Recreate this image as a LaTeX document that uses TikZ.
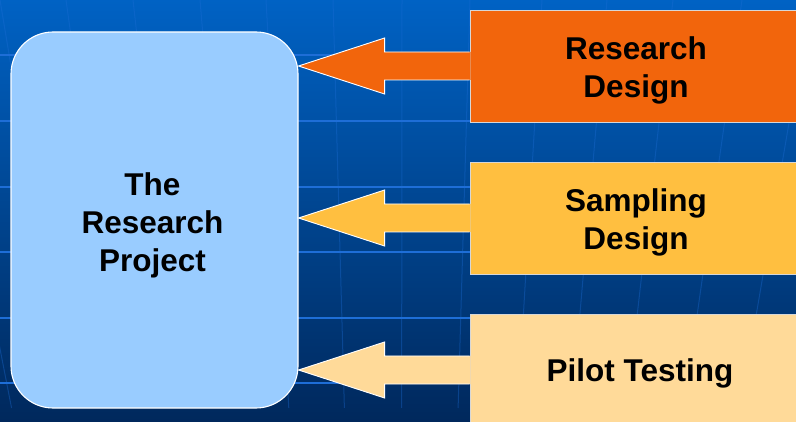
\documentclass[tikz,border=0pt]{standalone}
\usepackage{fontspec}
\setmainfont{Liberation Sans}
\usetikzlibrary{calc}

\definecolor{bgtop}{RGB}{0,98,196}
\definecolor{bgbottom}{RGB}{0,40,92}
\definecolor{gridblue}{RGB}{30,110,215}
\definecolor{projectblue}{RGB}{153,204,255}
\definecolor{designorange}{RGB}{242,101,12}
\definecolor{samplingyellow}{RGB}{255,191,64}
\definecolor{pilotpale}{RGB}{255,218,153}
\definecolor{boxedge}{RGB}{215,215,215}

\tikzset{
  labeltext/.style={font=\bfseries\fontsize{31.5}{38}\selectfont, text=black, align=center, inner sep=0pt},
  projectbox/.style={rectangle, rounded corners=42pt, fill=projectblue,
    draw=white, line width=1.1pt, minimum width=287pt, minimum height=376pt, inner sep=0pt},
  stagebox/.style={rectangle, draw=boxedge, line width=0.9pt,
    minimum width=332pt, minimum height=112pt, inner sep=0pt},
  gridline/.style={gridblue, line width=1.4pt},
  gridfaint/.style={gridblue, line width=1pt, opacity=0.35},
  arrowedge/.style={white, line width=0.9pt, line join=miter},
}

\begin{document}
\begin{tikzpicture}[x=1pt, y=-1pt]
  \useasboundingbox (0,0) rectangle (796,422);
  \clip (0,0) rectangle (796,422);

  % backdrop: vertical blue gradient with a light perspective grid
  \shade[top color=bgtop, bottom color=bgbottom] (0,0) rectangle (796,422);
  \foreach \y in {55,121,187,252,318,383}
    \draw[gridline] (0,\y) -- (796,\y);
  \foreach \x in {-68,0,66,133,200,266,333,402,470,542,607,673,742,810,878}
    \draw[gridfaint] (\x,0) -- ($(\x,0)!0.17!(400,2400)$);

  % main block and the three stages
  \node[projectbox] (project) at (154.5,220) {};
  \node[stagebox, fill=designorange] (design) at (636,66) {};
  \node[stagebox, fill=samplingyellow] (sampling) at (636,218) {};
  \node[stagebox, fill=pilotpale] (pilot) at (636,370) {};

  % their captions
  \node[labeltext] (project-text) at ($(project.center)+(-2,5)$) {The\\Research\\Project};
  \node[labeltext] (design-text) at ($(design.center)+(0,4)$) {Research\\Design};
  \node[labeltext] (sampling-text) at ($(sampling.center)+(0,4)$) {Sampling\\Design};
  \node[labeltext] (pilot-text) at ($(pilot.center)+(4,3)$) {Pilot Testing};

  % block arrows from each stage into the project
  \foreach \b/\c in {design/designorange, sampling/samplingyellow, pilot/pilotpale} {
    \coordinate (tip-\b) at (project.east |- \b.west);
    \fill[\c] ($(\b.west)+(1,-14)$) -- ($(tip-\b)+(86,-14)$) -- ($(tip-\b)+(86,-28)$)
      -- (tip-\b) -- ($(tip-\b)+(86,28)$) -- ($(tip-\b)+(86,14)$) -- ($(\b.west)+(1,14)$) -- cycle;
    \draw[arrowedge] ($(\b.west)+(0,-14)$) -- ($(tip-\b)+(86,-14)$) -- ($(tip-\b)+(86,-28)$)
      -- (tip-\b) -- ($(tip-\b)+(86,28)$) -- ($(tip-\b)+(86,14)$) -- ($(\b.west)+(0,14)$);
  }
\end{tikzpicture}
\end{document}
